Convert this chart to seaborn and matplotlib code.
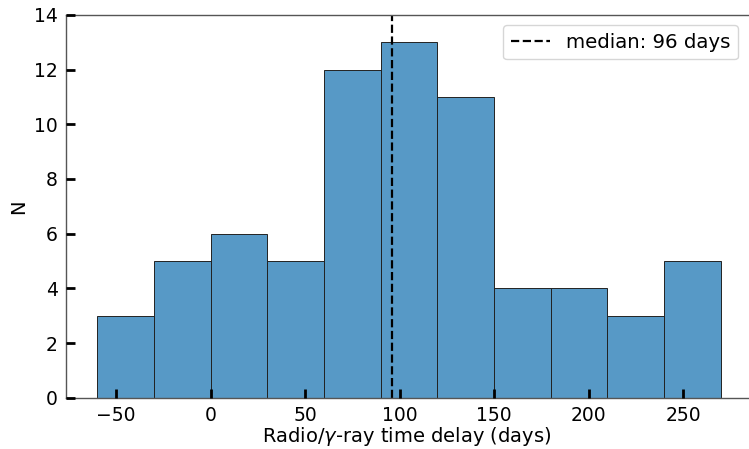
import numpy as np
import pandas as pd
import seaborn as sns
import matplotlib.pyplot as plt

# histogram bins (days) and counts
bin_edges = [-60, -30, 0, 30, 60, 90, 120, 150, 180, 210, 240, 270]
counts = [3, 5, 6, 5, 12, 13, 11, 4, 4, 3, 5]
median_delay = 96

centers = [(a + b) / 2 for a, b in zip(bin_edges[:-1], bin_edges[1:])]
df = pd.DataFrame({"delay": centers, "n": counts})

sns.set_style("white")
plt.rcParams["font.family"] = ["DejaVu Sans"]
plt.rcParams["text.color"] = "black"
plt.rcParams["axes.labelcolor"] = "black"
plt.rcParams["xtick.color"] = "black"
plt.rcParams["ytick.color"] = "black"

fig, ax = plt.subplots(figsize=(7.49, 4.49), dpi=100)
fig.subplots_adjust(left=0.088, right=0.999, top=0.967, bottom=0.114)

sns.histplot(data=df, x="delay", weights="n", bins=bin_edges,
             color="#1f77b4", alpha=0.75, edgecolor="#222222", linewidth=0.7, ax=ax)
ax.axvline(median_delay, color="black", linestyle="--", linewidth=1.6,
           label=f"median: {median_delay} days")

ax.set_xlim(-76.5, 284.5)
ax.set_ylim(0, 14)
ax.set_xlabel(r"Radio/$\gamma$-ray time delay (days)", fontsize=14, labelpad=0)
ax.set_ylabel("N", fontsize=14)
ax.tick_params(direction="in", length=6.5, width=2, labelsize=13.5, pad=6,
               bottom=True, left=True)
ax.set_axisbelow(False)
for s in ax.spines.values():
    s.set_color("#555555")
    s.set_linewidth(1.0)
ax.spines["right"].set_visible(False)

ax.legend(loc="upper right", fontsize=14.2, frameon=True)

plt.savefig("out.png", dpi=100)
plt.close()
